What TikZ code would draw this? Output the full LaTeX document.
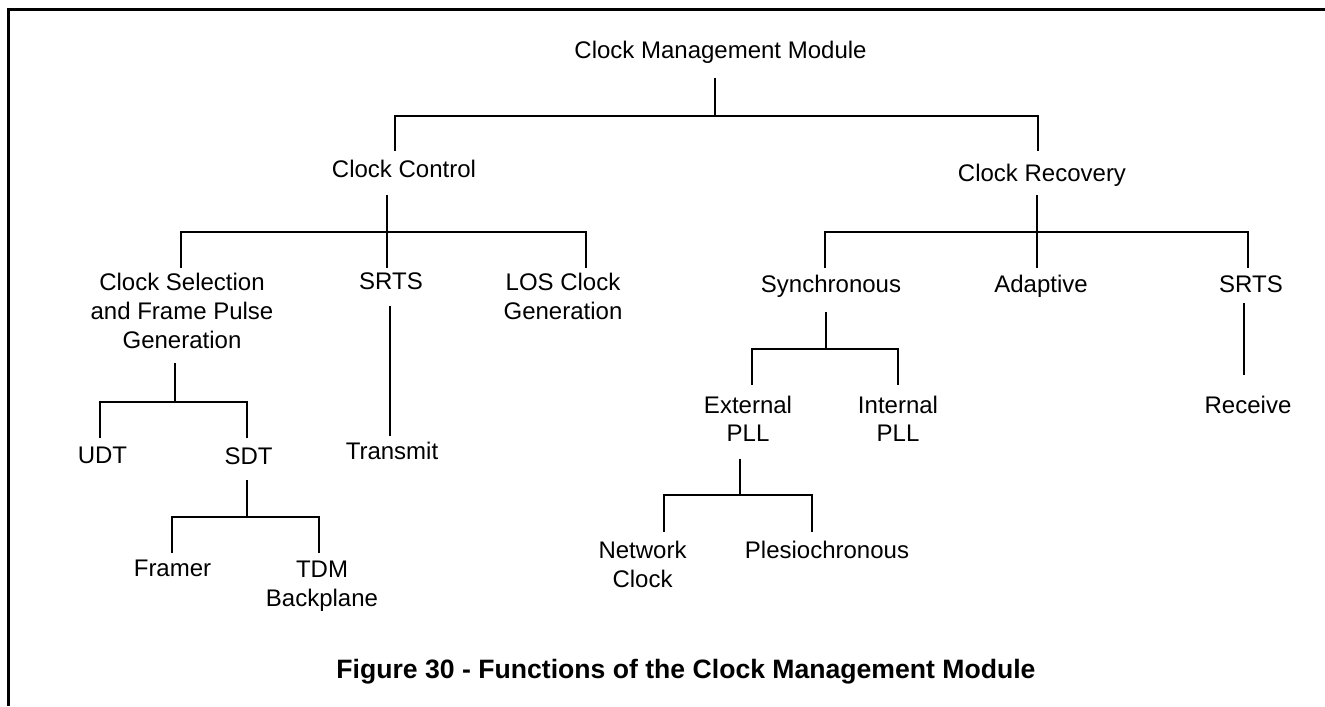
\documentclass[tikz,border=0pt]{standalone}
\usepackage{fontspec}
\setmainfont{Liberation Sans}
\begin{document}
\begin{tikzpicture}[x=0.5pt,y=-0.5pt,
  lbl/.style={anchor=north,inner sep=0pt,align=center,font=\fontsize{12pt}{14.4pt}\selectfont},
  capt/.style={anchor=north,inner sep=0pt,font=\fontsize{13.3pt}{16pt}\selectfont\bfseries},
  conn/.style={line width=1pt},
  frameline/.style={line width=1.3pt}]
\useasboundingbox (0,0) rectangle (1325,706);
% frame
\draw[frameline] (8.5,706) -- (8.5,9.5) -- (1325,9.5);
% nodes
\node[lbl] (root) at (720.5,40.4) {Clock Management Module};
\node[lbl] (cc) at (404,160) {Clock Control};
\node[lbl] (cr) at (1042,163.4) {Clock Recovery};
\node[lbl] (csel) at (182,272.7) {Clock Selection\\and Frame Pulse\\Generation};
\node[lbl] (srtst) at (391,272.7) {SRTS};
\node[lbl] (los) at (563,272.7) {LOS Clock\\Generation};
\node[lbl] (sync) at (831,275) {Synchronous};
\node[lbl] (adapt) at (1041,275) {Adaptive};
\node[lbl] (srtsr) at (1251,275) {SRTS};
\node[lbl] (udt) at (102.5,446.4) {UDT};
\node[lbl] (sdt) at (248.5,447.4) {SDT};
\node[lbl] (transmit) at (392,441.4) {Transmit};
\node[lbl] (ext) at (748,395.4) {External\\PLL};
\node[lbl] (int) at (898,395.4) {Internal\\PLL};
\node[lbl] (receive) at (1248,395.4) {Receive};
\node[lbl] (framer) at (172.5,559.4) {Framer};
\node[lbl] (tdm) at (322,560.4) {TDM\\Backplane};
\node[lbl] (network) at (642.5,541) {Network\\Clock};
\node[lbl] (plesio) at (827,540.7) {Plesiochronous};
\node[capt] (caption) at (686,658.5) {Figure 30 - Functions of the Clock Management Module};
% connector coordinates
\coordinate (rootS) at (714.5,78);
\coordinate (rootJ) at (714.5,116);
\coordinate (ccT) at (395,150.7);
\coordinate (crT) at (1037.5,150.7);
\coordinate (ccS) at (387,195);
\coordinate (ccJ) at (387,232);
\coordinate (cselT) at (181,267.5);
\coordinate (srtstT) at (387,267.5);
\coordinate (losT) at (586.4,267.5);
\coordinate (cselS) at (174.7,363);
\coordinate (cselJ) at (174.7,401.5);
\coordinate (udtT) at (99.7,438);
\coordinate (sdtT) at (246.8,438);
\coordinate (sdtS) at (247,480);
\coordinate (sdtJ) at (247,516.5);
\coordinate (framerT) at (171.5,553.3);
\coordinate (tdmT) at (318.6,553.3);
\coordinate (srtstS) at (389.7,305.5);
\coordinate (transmitT) at (389.7,435.5);
\coordinate (crS) at (1036.8,195);
\coordinate (crJ) at (1036.8,232.3);
\coordinate (syncT) at (825,268);
\coordinate (adaptT) at (1036.8,268);
\coordinate (srtsrT) at (1248,268);
\coordinate (syncS) at (826,311.5);
\coordinate (syncJ) at (826,348.7);
\coordinate (extT) at (751.8,385);
\coordinate (intT) at (898,385);
\coordinate (srtsrS) at (1244,303);
\coordinate (receiveT) at (1244,374.5);
\coordinate (extS) at (740,458.5);
\coordinate (extJ) at (740,495);
\coordinate (networkT) at (664.2,531.7);
\coordinate (plesioT) at (811.7,531.7);
% connectors
\draw[conn] (rootS) -- (rootJ);
\draw[conn] (ccT) |- (rootJ) -| (crT);
\draw[conn] (ccS) -- (srtstT);
\draw[conn] (cselT) |- (ccJ) -| (losT);
\draw[conn] (cselS) -- (cselJ);
\draw[conn] (udtT) |- (cselJ) -| (sdtT);
\draw[conn] (sdtS) -- (sdtJ);
\draw[conn] (framerT) |- (sdtJ) -| (tdmT);
\draw[conn] (srtstS) -- (transmitT);
\draw[conn] (crS) -- (adaptT);
\draw[conn] (syncT) |- (crJ) -| (srtsrT);
\draw[conn] (syncS) -- (syncJ);
\draw[conn] (extT) |- (syncJ) -| (intT);
\draw[conn] (srtsrS) -- (receiveT);
\draw[conn] (extS) -- (extJ);
\draw[conn] (networkT) |- (extJ) -| (plesioT);
\end{tikzpicture}
\end{document}
